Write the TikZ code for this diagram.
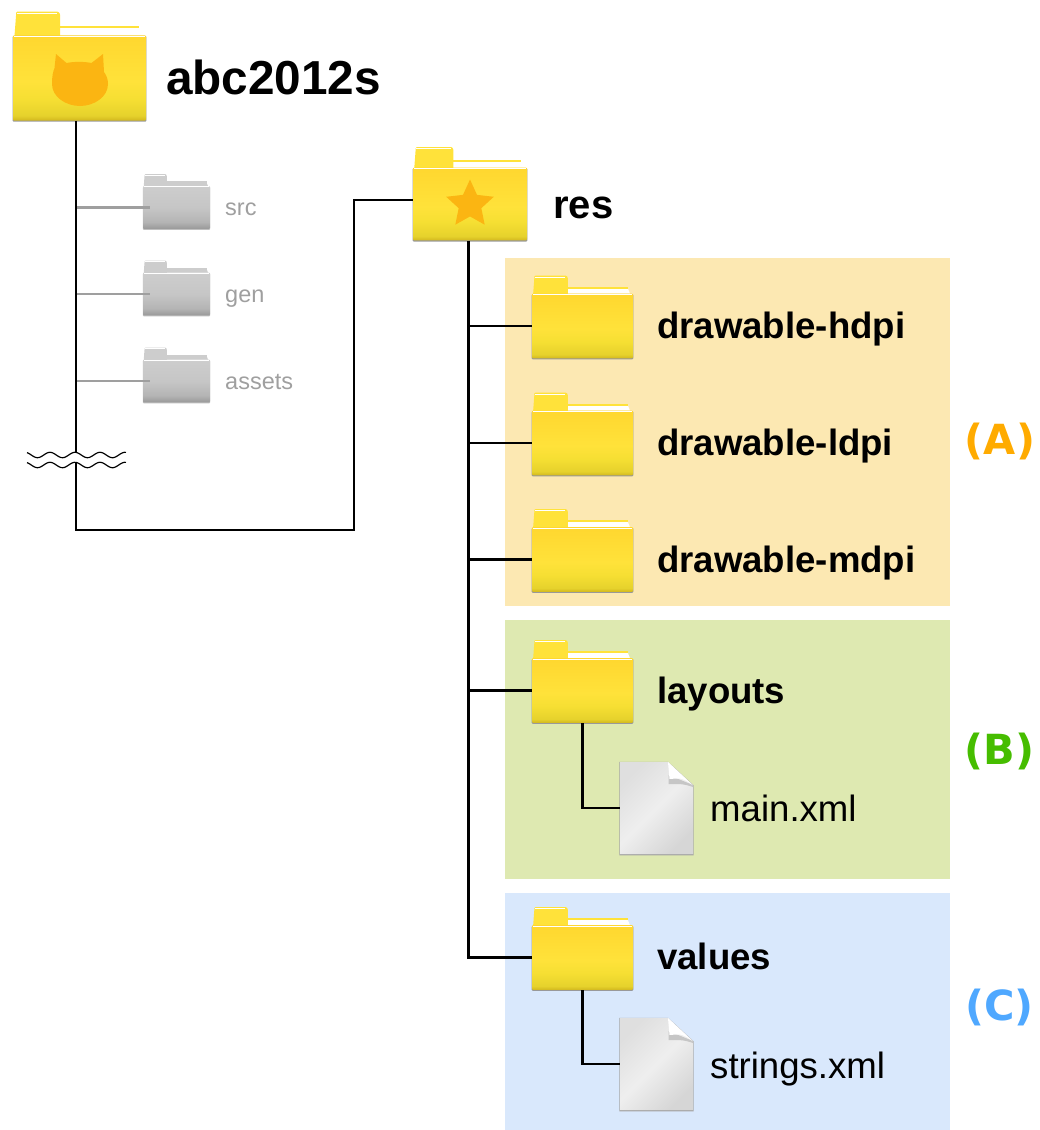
\documentclass[tikz,border=0pt]{standalone}
\usepackage{fontspec}
\setmainfont{Liberation Sans}
\newfontfamily\tagfont{DejaVu Sans}
\usetikzlibrary{shapes.geometric,shadows}
\definecolor{yeltop}{HTML}{FFD72F}
\definecolor{yelmid}{HTML}{FFE23A}
\definecolor{yellow2}{HTML}{E6D22C}
\definecolor{yellow3}{HTML}{F6DF33}
\definecolor{yelend}{HTML}{D2B71E}
\definecolor{gretop}{HTML}{CDCDCD}
\definecolor{gremid}{HTML}{C6C6C6}
\definecolor{grey2}{HTML}{B4B4B4}
\definecolor{greend}{HTML}{989898}
\definecolor{panelA}{HTML}{FCE8B2}
\definecolor{panelB}{HTML}{DEE9B1}
\definecolor{panelC}{HTML}{D9E8FC}
\definecolor{tagA}{HTML}{FFAB00}
\definecolor{tagB}{HTML}{46BD00}
\definecolor{tagC}{HTML}{4FA8FF}
\definecolor{emblem}{HTML}{FBB512}
\pgfdeclareverticalshading{yelfold}{100bp}{color(0bp)=(yelend);color(25bp)=(yelend);color(28bp)=(yellow2);color(38bp)=(yellow3);color(48bp)=(yelmid);color(75bp)=(yeltop);color(100bp)=(yeltop)}
\pgfdeclareverticalshading{grefold}{100bp}{color(0bp)=(greend);color(25bp)=(greend);color(33bp)=(grey2);color(50bp)=(gremid);color(75bp)=(gretop);color(100bp)=(gretop)}
\tikzset{
yelfront/.style={shade,shading=yelfold,general shadow={shadow yshift=-.8pt,shadow scale=1.006,fill=black!40}},
grefront/.style={shade,shading=grefold,general shadow={shadow yshift=-.8pt,shadow scale=1.006,fill=black!25}},
yeltab/.style={fill=yelmid},
gretab/.style={fill=gretop},
yelrim/.style={draw=yelmid},
grerim/.style={draw=gretop},
yelback/.style={fill=white},
greback/.style={fill=gretop},
pics/folder/.style={code={
  \path[#1back] (-15,-32) -- (-15,-37) -- (45,-37) -- (47,-32) -- cycle;
  \draw[#1rim,line width=2pt] (-15,-38) -- (45,-38);
  \path[#1tab,rounded corners=1pt] (-49,-30) -- (-47.5,-50) -- (-16,-50) -- (-14.5,-48) -- (-14.5,-30) -- cycle;
  \draw[white,line width=.5pt] (-47,-48.6) -- (-17,-48.6);
  \node[#1front,transform shape,rounded corners=1pt,minimum width=100pt,minimum height=64pt,inner sep=0pt] (body) at (0,0) {};
  \draw[white,line width=.5pt] (-49,-31.3) -- (49,-31.3);
}},
pics/paper/.style={code={
  \node[minimum width=73pt,minimum height=92pt,inner sep=0pt] (body) at (0,0) {};
  \path[left color=gray!25,right color=gray!32,middle color=gray!13,shading angle=45,general shadow={shadow yshift=-.6pt,shadow scale=1.015,fill=black!35}] (-36.5,-46) -- (11.5,-46) -- (36.5,-23) -- (36.5,46) -- (-36.5,46) -- cycle;
  \fill[gray!45] (12,-33) -- (36.5,-23) -- (36.5,-21) .. controls (27,-24) .. (12,-24) -- cycle;
  \fill[white] (11.5,-46) -- (36,-23) .. controls (26,-30) .. (13,-29) -- cycle;
}}
}
\begin{document}
\begin{tikzpicture}[x=1pt,y=-1pt]
\tikzstyle{link}=[draw=black,line width=2.8pt]
\tikzstyle{grelink}=[draw=gray!75,line width=2.6pt]
\tikzstyle{folderlabel}=[inner sep=0pt,anchor=base west,font=\bfseries\fontsize{36.6}{40}\selectfont]
\tikzstyle{filelabel}=[inner sep=0pt,anchor=base west,font=\fontsize{36.6}{40}\selectfont]
\tikzstyle{dimlabel}=[inner sep=0pt,anchor=base west,text=gray!75,font=\fontsize{23.5}{26}\selectfont]
\tikzstyle{taglabel}=[inner sep=0pt,anchor=base,font=\tagfont\bfseries\fontsize{41.5}{44}\selectfont]
\useasboundingbox (0,0) rectangle (1039,1130);
\fill[panelA] (505,258) rectangle (950,606);
\fill[panelB] (505,620) rectangle (950,879);
\fill[panelC] (505,893) rectangle (950,1130);

\pic[scale=.67] (src) at (176.5,207.5) {folder=gre};
\pic[scale=.67] (gen) at (176.5,294) {folder=gre};
\pic[scale=.67] (assets) at (176.5,381) {folder=gre};
\pic[scale=1.33] (abc) at (79.5,78) {folder=yel};
\pic[scale=1.14] (res) at (470,204) {folder=yel};
\pic[scale=1.01] (hdpi) at (582.5,326) {folder=yel};
\pic[scale=1.01] (ldpi) at (582.5,443) {folder=yel};
\pic[scale=1.01] (mdpi) at (582.5,559.5) {folder=yel};
\pic[scale=1.01] (layouts) at (582.5,690.5) {folder=yel};
\pic[scale=1.01] (values) at (582.5,957.5) {folder=yel};
\pic (main) at (656.5,808) {paper};
\pic (strings) at (656.5,1064) {paper};

\fill[emblem] (52,84) .. controls (52,76) and (53,72) .. (54.5,68) -- (56,54) -- (66.5,63) .. controls (74,61.5) and (84,61.5) .. (91.5,63) -- (103,54) -- (104,72) .. controls (107,76) and (108,80) .. (108,84) .. controls (108,97) and (94,106) .. (80,106) .. controls (66,106) and (52,97) .. (52,84) -- cycle;
\node[star,star points=5,star point ratio=2.1,fill=emblem,minimum size=50pt,inner sep=0pt] (resstar) at (470,204.5) {};

\coordinate (abcbend) at (76,530);
\coordinate (resbend) at (468.5,957.5);
\coordinate (resturn) at (354,530);
\foreach \k in {src,gen,assets}
  \draw[grelink] ([xshift=7pt]\k body.west) -- (\k body.west -| abcbend);
\draw[link] (abcbody.south -| abcbend) -- (abcbend) -- (resturn) |- ([yshift=4pt]resbody.west);
\draw[link] (resbody.south -| resbend) -- (resbend) -- (valuesbody.west);
\foreach \k in {hdpi,ldpi,mdpi,layouts}
  \draw[link] (\k body.west -| resbend) -- (\k body.west);
\draw[link] (layoutsbody.south) |- (mainbody.west);
\draw[link] (valuesbody.south) |- (stringsbody.west);

\fill[white] plot[domain=27:126,samples=70] (\x,{455-2.7*cos((\x-25)*14.4)}) -- plot[domain=126:27,samples=70] (\x,{465-2.7*cos((\x-25)*14.4)}) -- cycle;
\draw[line width=1.2pt] plot[domain=27:126,samples=70] (\x,{455-2.7*cos((\x-25)*14.4)});
\draw[line width=1.2pt] plot[domain=27:126,samples=70] (\x,{465-2.7*cos((\x-25)*14.4)});

\node[folderlabel,font=\bfseries\fontsize{47.7}{50}\selectfont] (abclabel) at (166,94) {abc2012s};
\node[folderlabel,font=\bfseries\fontsize{40}{44}\selectfont] (reslabel) at (553,218) {res};
\node[dimlabel] (srclabel) at (225,215) {src};
\node[dimlabel] (genlabel) at (225,302) {gen};
\node[dimlabel] (assetslabel) at (225,389) {assets};
\node[folderlabel] (hdpilabel) at (657,338) {drawable-hdpi};
\node[folderlabel] (ldpilabel) at (657,455.5) {drawable-ldpi};
\node[folderlabel] (mdpilabel) at (657,572.5) {drawable-mdpi};
\node[folderlabel] (layoutslabel) at (657,703) {layouts};
\node[folderlabel] (valueslabel) at (657,969) {values};
\node[filelabel] (mainlabel) at (710,821) {main.xml};
\node[filelabel] (stringslabel) at (710,1078) {strings.xml};
\node[taglabel,text=tagA] (tagA) at (1000,454) {(A)};
\node[taglabel,text=tagB] (tagB) at (999.5,764.5) {(B)};
\node[taglabel,text=tagC] (tagC) at (999.5,1020) {(C)};
\end{tikzpicture}
\end{document}
